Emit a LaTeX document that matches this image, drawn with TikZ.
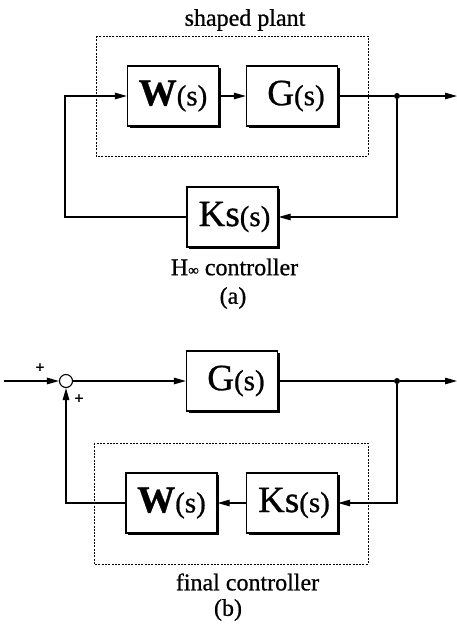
\documentclass[tikz,border=0pt]{standalone}
\usepackage{fontspec}
\setmainfont{Liberation Serif}[FakeBold=0.8]
\usetikzlibrary{arrows.meta,shadows}
\newcommand\blkW{{\fontsize{38}{38}\selectfont\bfseries W}{\fontsize{29}{29}\selectfont(s)}}
\newcommand\blkG{{\fontsize{37}{37}\selectfont G}{\fontsize{29}{29}\selectfont(s)}}
\newcommand\blkK{{\fontsize{37}{37}\selectfont Ks}{\fontsize{29}{29}\selectfont(s)}}
\begin{document}
\begin{tikzpicture}[x=1pt,y=-1pt,
  blk/.style={draw,line width=1.3pt,fill=white,minimum width=91pt,minimum height=60pt,inner sep=0pt,
    drop shadow={shadow xshift=2.2pt,shadow yshift=-2.2pt,opacity=1,fill=black}},
  sig/.style={line width=1.2pt},
  arr/.style={sig,-{Triangle[length=12pt,width=6.5pt]}},
  dbox/.style={line width=0.9pt,dash pattern=on 2pt off 1.3pt},
  lbl/.style={font=\fontsize{24}{24}\selectfont,inner sep=0pt},
  pls/.style={font=\fontsize{16}{16}\selectfont\bfseries,inner sep=0pt},
  dot/.style={circle,fill=black,inner sep=0pt,minimum size=6pt}]
\useasboundingbox (0,0) rectangle (457,627);
% ---------- (a) ----------
\draw[dbox] (96,36) rectangle (368,156);
\node[lbl] (tplant) at (245,20) {shaped plant};
\node[blk] (W1) at (173,96) {\blkW};
\node[blk] (G1) at (292,96) {\hspace*{8pt}\blkG};
\node[blk] (K1) at (232.5,217) {\hspace*{4pt}\blkK};
\node[dot] (o1) at (397,96) {};
\coordinate (e1) at (457,96);
\coordinate (l1) at (65,96);
\draw[arr] (K1.west) -| (l1) -- (W1.west);
\draw[arr] (W1) -- (G1);
\draw[sig] (G1.east) -- (o1);
\draw[arr] (o1) -- (e1);
\draw[arr] (o1) |- (K1.east);
\node[lbl] (tctrl) at (234.5,267) {H{\fontsize{15}{15}\selectfont ∞} controller};
\node[lbl] (ta) at (233,298) {(a)};
% ---------- (b) ----------
\draw[dbox] (94,443) rectangle (368,564);
\node[draw,circle,line width=1.1pt,minimum size=13pt,inner sep=0pt] (s) at (66,381) {};
\coordinate (in) at (4,381);
\node[blk] (G2) at (232,381) {\hspace*{8pt}\blkG};
\node[blk] (K2) at (292,503) {\hspace*{4pt}\blkK};
\node[blk] (W2) at (171.5,503) {\blkW};
\node[dot] (o2) at (397,381) {};
\coordinate (e2) at (457,381);
\draw[arr] (in) -- (s.west);
\draw[arr] (s.east) -- (G2.west);
\draw[sig] (G2.east) -- (o2);
\draw[arr] (o2) -- (e2);
\draw[arr] (o2) |- (K2.east);
\draw[arr] (K2.west) -- (W2.east);
\draw[arr] (W2.west) -| (s.south);
\node[pls] (p1) at (40,368) {+};
\node[pls] (p2) at (79,399) {+};
\node[lbl] (tfinal) at (247.5,582) {final controller};
\node[lbl] (tb) at (228,610) {(b)};
\end{tikzpicture}
\end{document}
